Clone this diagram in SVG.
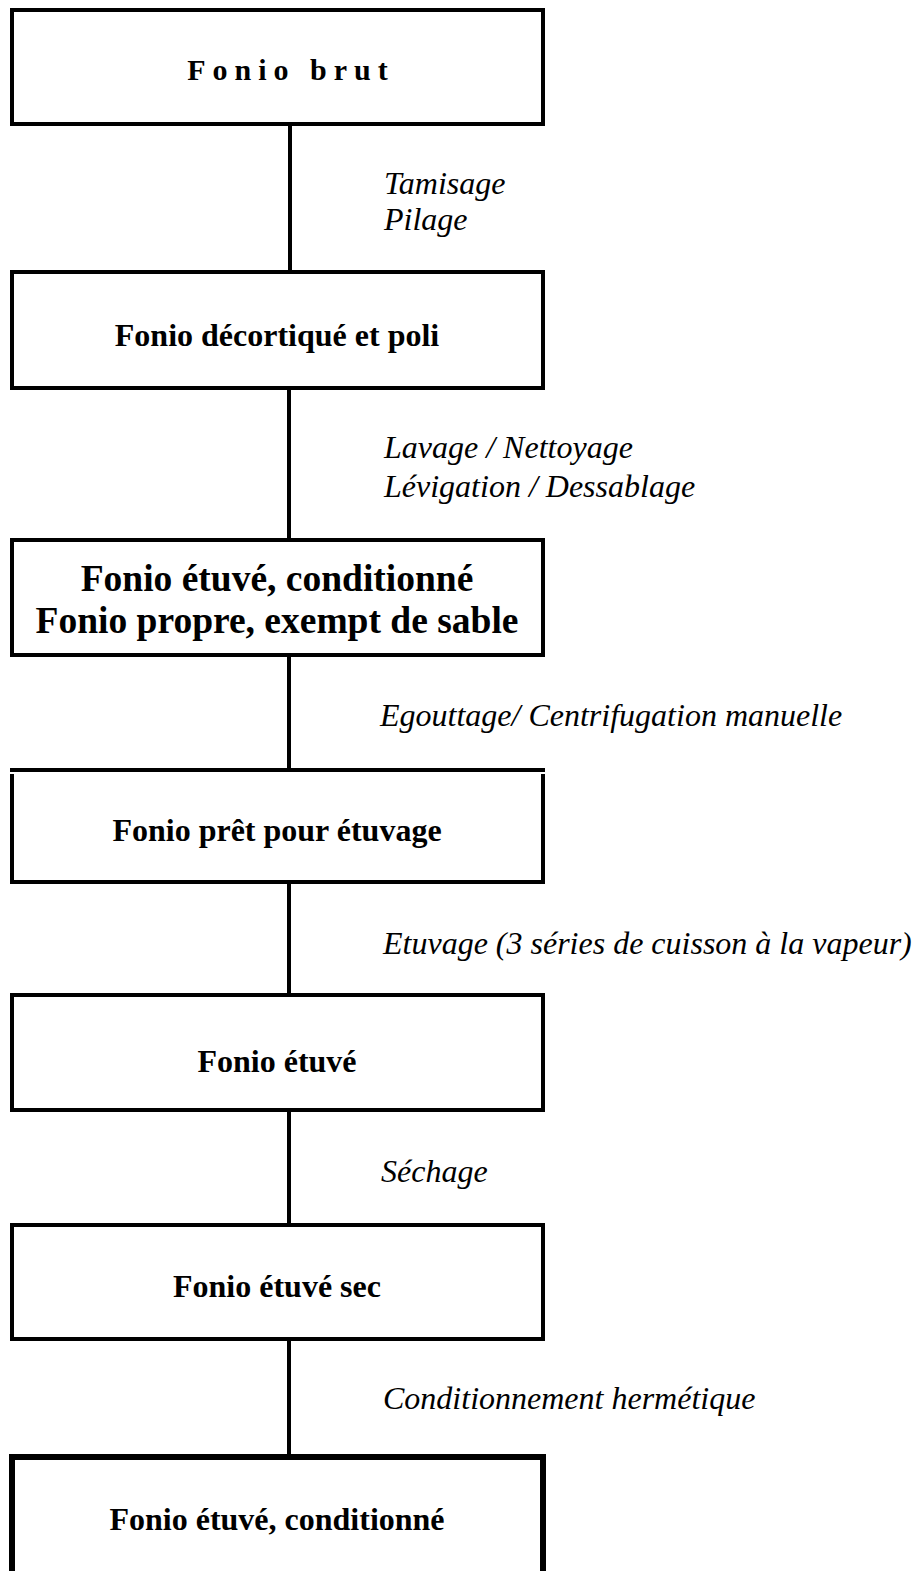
<svg xmlns="http://www.w3.org/2000/svg" width="921" height="1571" viewBox="0 0 921 1571">
<style>
.box{fill:#fff;stroke:#000;stroke-width:4}
.thick{stroke-width:6}
.conn{stroke:#000;stroke-width:4;fill:none}
.t{font-family:"Liberation Serif","Times New Roman",serif;font-weight:bold;font-size:32px;text-anchor:middle;fill:#000}
.big{font-size:37.5px}
.lbl{font-family:"Liberation Serif","Times New Roman",serif;font-style:italic;font-size:32px;fill:#000}
</style>
<rect width="921" height="1571" fill="#fff"/>
<g id="connectors">
<line class="conn" x1="290" y1="124" x2="290" y2="272"/>
<line class="conn" x1="289" y1="388" x2="289" y2="540"/>
<line class="conn" x1="289" y1="655" x2="289" y2="770"/>
<line class="conn" x1="289" y1="882" x2="289" y2="995"/>
<line class="conn" x1="289" y1="1110" x2="289" y2="1225"/>
<line class="conn" x1="289" y1="1339" x2="289" y2="1455"/>
</g>
<g id="labels">
<text class="lbl" x="384" y="194">Tamisage</text>
<text class="lbl" x="384" y="230">Pilage</text>
<text class="lbl" x="384" y="458">Lavage / Nettoyage</text>
<text class="lbl" x="384" y="497">Lévigation / Dessablage</text>
<text class="lbl" x="380" y="726">Egouttage/ Centrifugation manuelle</text>
<text class="lbl" x="383" y="954">Etuvage (3 séries de cuisson à la vapeur)</text>
<text class="lbl" x="381" y="1182">Séchage</text>
<text class="lbl" x="383" y="1409">Conditionnement hermétique</text>
</g>
<g id="n1">
<rect class="box" x="12" y="10" width="531" height="114"/>
<text class="t" x="291" y="80" style="font-size:30px" letter-spacing="7">Fonio brut</text>
</g>
<g id="n2">
<rect class="box" x="12" y="272" width="531" height="116"/>
<text class="t" x="277" y="346">Fonio décortiqué et poli</text>
</g>
<g id="n3">
<rect class="box" x="12" y="540" width="531" height="115"/>
<text class="t big" x="277" y="591">Fonio étuvé, conditionné</text>
<text class="t big" x="277" y="633">Fonio propre, exempt de sable</text>
</g>
<g id="n4">
<rect x="12" y="774" width="531" height="108" fill="#fff"/>
<path class="conn" d="M10 770 H545 M12 774 V882 M543 774 V882 M10 882 H545"/>
<text class="t" x="277" y="841">Fonio prêt pour étuvage</text>
</g>
<g id="n5">
<rect class="box" x="12" y="995" width="531" height="115"/>
<text class="t" x="277" y="1072">Fonio étuvé</text>
</g>
<g id="n6">
<rect class="box" x="12" y="1225" width="531" height="114"/>
<text class="t" x="277" y="1297">Fonio étuvé sec</text>
</g>
<g id="n7">
<rect class="box thick" x="12" y="1457" width="531" height="130"/>
<text class="t" x="277" y="1530">Fonio étuvé, conditionné</text>
</g>
</svg>
